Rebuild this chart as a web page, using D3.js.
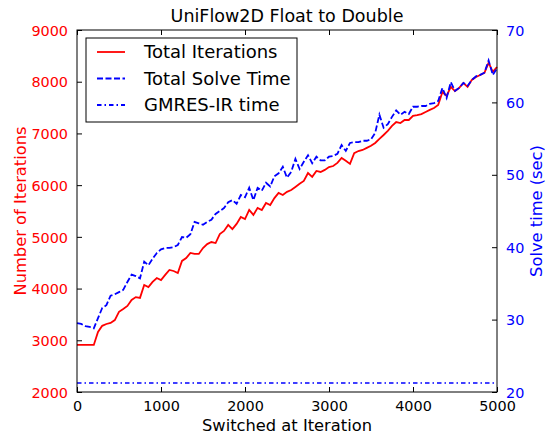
<!DOCTYPE html>
<meta charset="utf-8">
<style>
body { margin: 0; background: #fff; }
text { font-family: "DejaVu Sans", sans-serif; }
.tick line { stroke: #000; }
.domain { display: none; }
</style>
<svg width="549" height="437"></svg>
<script src="https://cdn.jsdelivr.net/npm/d3@7"></script>
<script>

// switch point (iteration), step 50
var switchIters = d3.range(0, 5001, 50);

var totalIterations = [
  2910, 2910, 2910, 2910, 2910, 3160, 3280, 3315, 3335, 3390,
  3550, 3605, 3665, 3780, 3835, 3820, 4070, 4030, 4130, 4205,
  4165, 4265, 4360, 4340, 4300, 4535, 4590, 4690, 4670, 4670,
  4785, 4860, 4900, 4880, 5055, 5115, 5230, 5150, 5250, 5385,
  5345, 5520, 5425, 5560, 5520, 5655, 5615, 5750, 5850, 5810,
  5870, 5905, 5965, 6025, 6080, 6235, 6160, 6275, 6255, 6295,
  6350, 6370, 6430, 6525, 6470, 6410, 6620, 6660, 6680, 6720,
  6760, 6815, 6895, 6970, 7050, 7145, 7220, 7200, 7260, 7260,
  7340, 7355, 7375, 7415, 7455, 7490, 7550, 7800, 7725, 7900,
  7820, 7880, 7975, 7900, 8035, 8090, 8130, 8170, 8365, 8190,
  8285
];

var totalSolveTime = [
  29.5, 29.4, 29.1, 29.0, 28.8, 30.2, 31.6, 32.0, 33.3, 33.5,
  33.8, 34.1, 35.2, 36.2, 36.0, 35.7, 38.0, 37.5, 38.4, 39.2,
  39.7, 39.9, 39.9, 40.0, 40.3, 41.4, 41.3, 41.8, 43.5, 43.3,
  43.1, 43.5, 43.8, 44.6, 45.0, 45.4, 46.2, 46.5, 46.0, 47.2,
  46.9, 48.2, 46.5, 48.2, 47.8, 48.9, 48.4, 49.8, 50.2, 51.1,
  49.6, 50.4, 52.2, 50.8, 51.8, 52.7, 51.6, 52.5, 52.0, 52.0,
  52.5, 52.6, 52.9, 54.1, 53.3, 54.4, 54.5, 54.5, 54.7, 54.7,
  54.9, 55.8, 58.3, 56.5, 57.0, 58.0, 58.9, 58.3, 58.7, 58.4,
  59.4, 59.4, 59.5, 59.5, 59.8, 59.9, 60.2, 62.0, 60.6, 62.8,
  61.6, 62.0, 62.7, 62.3, 63.1, 63.6, 63.8, 64.1, 65.8, 63.8,
  64.7
];

var gmresTime = switchIters.map(function() { return 21.25; });

var xTicks = [0, 1000, 2000, 3000, 4000, 5000];
var leftTicks = [2000, 3000, 4000, 5000, 6000, 7000, 8000, 9000];
var rightTicks = [20, 30, 40, 50, 60, 70];

var svg = d3.select("svg");
var pLeft = 77, pRight = 497, pTop = 30, pBottom = 392;
var tickFont = 14.4, labelFont = 16.3;

var x = d3.scaleLinear().domain([0, 5000]).range([pLeft, pRight]);
var yL = d3.scaleLinear().domain([2000, 9000]).range([pBottom, pTop]);
var yR = d3.scaleLinear().domain([20, 70]).range([pBottom, pTop]);

// axes, classic style ticks pointing in
svg.append("g")
    .attr("transform", "translate(0," + pBottom + ")")
    .call(d3.axisBottom(x).tickValues(xTicks).tickSize(-5).tickPadding(9).tickFormat(d3.format("d")))
    .attr("font-size", tickFont).attr("font-family", null)
  .selectAll("text").attr("fill", "#000");

svg.append("g")
    .attr("transform", "translate(0," + pTop + ")")
    .call(d3.axisTop(x).tickValues(xTicks).tickSize(-5).tickFormat(""));

svg.append("g")
    .attr("transform", "translate(" + pLeft + ",0)")
    .call(d3.axisLeft(yL).tickValues(leftTicks).tickSize(-5).tickPadding(9).tickFormat(d3.format("d")))
    .attr("font-size", tickFont).attr("font-family", null)
  .selectAll("text").attr("fill", "#ff0000").attr("dy", "0.36em");

svg.append("g")
    .attr("transform", "translate(" + pRight + ",0)")
    .call(d3.axisRight(yR).tickValues(rightTicks).tickSize(-5).tickPadding(9))
    .attr("font-size", tickFont).attr("font-family", null)
  .selectAll("text").attr("fill", "#0000ff").attr("dy", "0.36em");

// lines
var lineL = d3.line().x(function(d, i) { return x(switchIters[i]); }).y(function(d) { return yL(d); });
var lineR = d3.line().x(function(d, i) { return x(switchIters[i]); }).y(function(d) { return yR(d); });

svg.append("path").datum(gmresTime)
    .attr("d", lineR).attr("fill", "none")
    .attr("stroke", "#0000ff").attr("stroke-width", 1.6)
    .attr("stroke-dasharray", "4.5,3,1.5,3");

svg.append("path").datum(totalIterations)
    .attr("d", lineL).attr("fill", "none")
    .attr("stroke", "#ff0000").attr("stroke-width", 1.8);

svg.append("path").datum(totalSolveTime)
    .attr("d", lineR).attr("fill", "none")
    .attr("stroke", "#0000ff").attr("stroke-width", 1.8)
    .attr("stroke-dasharray", "6,2.5");

// frame
svg.append("rect")
    .attr("x", pLeft).attr("y", pTop)
    .attr("width", pRight - pLeft).attr("height", pBottom - pTop)
    .attr("fill", "none").attr("stroke", "#000").attr("stroke-width", 1);

// title and labels
svg.append("text").attr("x", (pLeft + pRight) / 2).attr("y", 22)
    .attr("text-anchor", "middle").attr("font-size", 17.5)
    .text("UniFlow2D Float to Double");

svg.append("text").attr("x", (pLeft + pRight) / 2).attr("y", 431)
    .attr("text-anchor", "middle").attr("font-size", labelFont)
    .text("Switched at Iteration");

svg.append("text")
    .attr("transform", "translate(26," + (pTop + pBottom) / 2 + ") rotate(-90)")
    .attr("text-anchor", "middle").attr("font-size", labelFont).attr("fill", "#ff0000")
    .text("Number of Iterations");

svg.append("text")
    .attr("transform", "translate(542," + (pTop + pBottom) / 2 + ") rotate(-90)")
    .attr("text-anchor", "middle").attr("font-size", labelFont).attr("fill", "#0000ff")
    .text("Solve time (sec)");

// legend
var legendItems = [
  { label: "Total Iterations", color: "#ff0000", dash: null },
  { label: "Total Solve Time", color: "#0000ff", dash: "6,2.5" },
  { label: "GMRES-IR time", color: "#0000ff", dash: "4.5,3,1.5,3" }
];

var legend = svg.append("g");
legend.append("rect")
    .attr("x", 86).attr("y", 38).attr("width", 211).attr("height", 84)
    .attr("fill", "#fff").attr("stroke", "#000").attr("stroke-width", 1);

var item = legend.selectAll("g.item").data(legendItems).enter().append("g")
    .attr("transform", function(d, i) { return "translate(0," + (52 + i * 26.5) + ")"; });
item.append("line")
    .attr("x1", 97).attr("x2", 125)
    .attr("stroke", function(d) { return d.color; })
    .attr("stroke-width", 1.8)
    .attr("stroke-dasharray", function(d) { return d.dash; });
item.append("text")
    .attr("x", 144).attr("dy", "0.36em").attr("font-size", 18)
    .text(function(d) { return d.label; });

</script>
